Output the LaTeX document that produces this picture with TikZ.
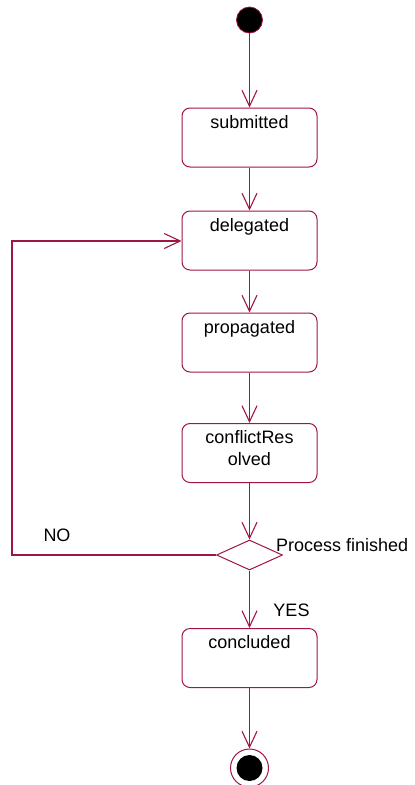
\documentclass[tikz,border=0pt]{standalone}
\usepackage{fontspec}
\setmainfont{Liberation Sans}
\usetikzlibrary{arrows.meta,shapes.geometric}
\definecolor{umlred}{RGB}{160,20,70}
\tikzset{
  statebox/.style={draw=umlred, line width=1pt, rounded corners=8pt,
    minimum width=135pt, minimum height=59pt, inner sep=0pt},
  lbl/.style={font=\fontsize{18}{22}\selectfont, text=black, inner sep=0pt},
  flow/.style={draw=umlred, line width=1.3pt, -{Straight Barb[length=16pt,width=15pt,line width=1.1pt]}},
  choice/.style={diamond, draw=umlred, line width=1pt, minimum width=66pt,
    minimum height=30pt, inner sep=0pt, aspect=2.2},
}
\begin{document}
\begin{tikzpicture}[x=1pt,y=-1pt]
  \useasboundingbox (0,0) rectangle (415,785);

  % start and end markers
  \node[circle, fill=black, draw=umlred, line width=0.8pt, minimum size=26pt, inner sep=0pt] (start) at (249.5,20) {};
  \node[circle, draw=umlred, line width=1pt, minimum size=38pt, inner sep=0pt] (endring) at (249.5,768) {};
  \node[circle, fill=black, minimum size=26pt, inner sep=0pt] (enddot) at (249.5,768) {};

  % activity states
  \node[statebox] (submitted)  at (249.5,137.5) {};
  \node[statebox] (delegated)  at (249.5,240.5) {};
  \node[statebox] (propagated) at (249.5,342.5) {};
  \node[statebox] (conflict)   at (249.5,453)   {};
  \node[statebox] (concluded)  at (249.5,658)   {};

  \node[lbl, anchor=base] (t1) at (249.5,128) {submitted};
  \node[lbl, anchor=base] (t2) at (249.5,231) {delegated};
  \node[lbl, anchor=base] (t3) at (249.5,333) {propagated};
  \node[lbl, anchor=base] (t4a) at (249.5,443) {conflictRes};
  \node[lbl, anchor=base] (t4b) at (249.5,465) {olved};
  \node[lbl, anchor=base] (t5) at (249.5,648) {concluded};

  % decision
  \node[choice] (decide) at (249.5,555) {};
  \node[lbl, anchor=west] (pf) at (276,545) {Process finished};
  \node[lbl] (no) at (57,535) {NO};
  \node[lbl] (yes) at (291.5,610) {YES};

  % transitions
  \draw[flow] (start.south) -- (submitted.north);
  \draw[flow] (submitted.south) -- (delegated.north);
  \draw[flow] (delegated.south) -- (propagated.north);
  \draw[flow] (propagated.south) -- (conflict.north);
  \draw[flow] (conflict.south) -- (decide.north);
  \draw[flow] (decide.south) -- (concluded.north);
  \draw[flow] (concluded.south) -- (endring.north);

  % loop back when not finished
  \coordinate (loopA) at (12,555);
  \coordinate (loopB) at (12,241);
  \draw[flow] (decide.west) -- (loopA) -- (loopB) -- (delegated.west |- loopB);
\end{tikzpicture}
\end{document}
